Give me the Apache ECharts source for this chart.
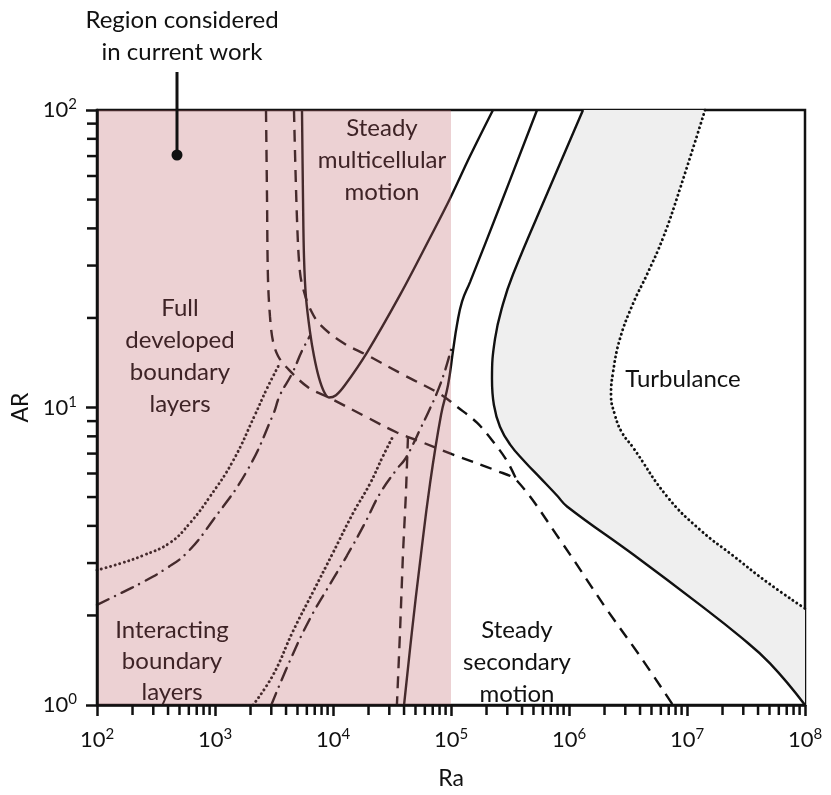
<!DOCTYPE html>
<html><head><meta charset="utf-8">
<script src="https://cdn.jsdelivr.net/npm/echarts@6/dist/echarts.min.js"></script>
<style>html,body{margin:0;padding:0;background:#fff}#c{width:831px;height:795px}</style>
</head><body><div id="c"></div><script>
// ---- data (Ra, AR) ----
const xTickExps = [2, 3, 4, 5, 6, 7, 8];
const yTickExps = [0, 1, 2];
const regionRa = [1e2, 1e5];
const regionAR = [1, 100];
const solidU = [[5460,100],[5570,50.4],[5680,31.9],[5900,23.5],[6380,18.0],[6900,14.9],[7600,12.6],[8390,11.3],[9250,10.8],[10600,11.0],[12640,11.9],[19400,15.3],[37000,23.9],[66400,37.2],[98200,50.4],[145000,70.0],[227000,100]];
const solidMid = [[536000,100],[265000,48.5],[145000,26.4],[124000,22.7],[112500,19.0],[104000,15.5],[94400,11.9],[82300,9.44],[66400,5.55],[54600,3.01],[46700,1.77],[40000,1]];
const solidTurb = [[1315000,100],[664000,53.2],[335000,28.0],[276000,22.3],[236000,17.0],[222500,12.5],[231000,10.2],[260000,8.62],[316000,7.52],[424000,6.56],[568000,5.81],[791000,5.06],[962000,4.65],[3480000,3.21],[12900000,2.17],[28100000,1.70],[50500000,1.38],[1e8,1]];
const dottedTurb = [[14220000,100],[8730000,54.4],[6270000,37.2],[4580000,28.0],[3480000,22.3],[2700000,17.0],[2360000,13.1],[2270000,11.0],[2450000,9.44],[2810000,8.24],[3480000,7.35],[6780000,5.02],[12900000,3.88],[24500000,3.18],[47600000,2.59],[1e8,2.11]];
const dashedLower = [[2705,100],[2760,50.4],[2810,27.4],[2925,20.2],[3100,16.7],[3420,14.9],[4075,13.6],[6140,11.7],[9440,10.75],[19800,9.23],[34800,8.24],[54600,7.69],[101900,6.97],[245500,6.12],[362500,5.67],[839000,3.59],[2100000,2.09],[4000000,1.46],[7600000,1]];
const dashedUpper = [[4670,100],[4950,43.3],[5250,28.5],[5680,24.5],[6380,21.5],[7760,19.0],[12150,16.5],[19400,15.0],[39200,12.9],[80700,11.1],[114600,10.0],[166000,8.89],[227000,7.69],[298500,6.61],[362500,5.67]];
const dashedVert = [[43200,7.99],[41500,5.14],[39200,3.25],[37000,1.77],[34800,1]];
const dottedLeft = [[100,2.84],[157,2.99],[245,3.18],[415,3.51],[614,4.09],[907,5.02],[1420,6.61],[2180,9.44],[2760,11.6],[3550,14.1]];
const dashDotLeft = [[100,2.17],[157,2.37],[245,2.59],[377,2.86],[579,3.25],[961,4.18],[1866,6.12],[3100,9.44],[3550,11.0],[4495,13.0],[5460,15.5],[6380,17.4]];
const dottedMid = [[2100,1],[3100,1.26],[4580,1.77],[6770,2.40],[10000,3.25],[14770,4.41],[20600,5.55],[26500,6.86],[32200,7.99]];
const dashDotMid = [[3000,1],[4320,1.41],[6380,1.95],[9440,2.55],[13140,3.18],[18660,4.09],[25000,5.14],[34800,6.21],[40750,6.70],[47650,7.52],[54600,8.43],[63800,9.59],[76000,11.2],[88900,13.3],[101900,16.1]];

const FONT = 'Lato';
const INK = '#111';
const PINK_INK = '#3e2326';

// minor tick values (2..9 x 10^k) - axis decoration
function minorValues(exps) {
  const out = [];
  for (let i = 0; i < exps.length - 1; i++) for (let m = 2; m <= 9; m++) out.push(m * Math.pow(10, exps[i]));
  return out;
}
const xMinor = minorValues(xTickExps);
const yMinor = minorValues(yTickExps);

function lineSeries(data, kind, smooth) {
  const ls = { color: INK, width: 2.4 };
  if (kind === 'dashed') { ls.type = [12, 8]; }
  else if (kind === 'dotted') { ls.type = [0.1, 4.6]; ls.cap = 'round'; ls.width = 2.9; }
  else if (kind === 'dashdot') { ls.type = [13, 7, 0.1, 7]; ls.cap = 'round'; }
  return { type: 'line', data: data, symbol: 'none', showSymbol: false, smooth: smooth === undefined ? 0.45 : smooth,
    lineStyle: ls, z: 2, silent: true, animation: false };
}

const chart = echarts.init(document.getElementById('c'));
function fmt(v) {
  const e = Math.round(Math.log10(v));
  return '{b|10}{s|' + e + '}';
}
const rich = {
  b: { fontSize: 22, fontFamily: FONT, color: INK, lineHeight: 26 },
  s: { fontSize: 15, fontFamily: FONT, color: INK, lineHeight: 15, verticalAlign: 'top' }
};

chart.setOption({
  animation: false,
  backgroundColor: '#fff',
  grid: { left: 97, right: 26, top: 110, bottom: 80, show: true, borderColor: INK, borderWidth: 2.5, backgroundColor: 'transparent' },
  xAxis: {
    type: 'log', logBase: 10, min: 1e2, max: 1e8, z: 10,
    splitLine: { show: false },
    axisLine: { lineStyle: { color: INK, width: 2.5 } },
    axisTick: { length: 11, lineStyle: { color: INK, width: 2.5 } },
    axisLabel: { margin: 22, formatter: fmt, rich: rich },
    name: 'Ra', nameLocation: 'middle', nameGap: 62,
    nameTextStyle: { fontSize: 23, fontFamily: FONT, color: INK }
  },
  yAxis: {
    type: 'log', logBase: 10, min: 1, max: 100, z: 10,
    splitLine: { show: false },
    axisLine: { lineStyle: { color: INK, width: 2.5 } },
    axisTick: { length: 11, lineStyle: { color: INK, width: 2.5 } },
    axisLabel: { margin: 20, formatter: fmt, rich: rich },
    name: 'AR', nameLocation: 'middle', nameGap: 58,
    nameTextStyle: { fontSize: 23, fontFamily: FONT, color: INK }
  },
  series: [
    { type: 'custom', z: 1, silent: true, data: [[0]], clip: true,
      renderItem: function (params, api) {
        const pts = solidTurb.map(function (d) { return api.coord(d); })
          .concat(dottedTurb.slice().reverse().map(function (d) { return api.coord(d); }));
        return { type: 'polygon', shape: { points: pts }, style: { fill: '#efefef' } };
      } },
    lineSeries(solidU, 'solid', 0.35),
    lineSeries(solidMid, 'solid'),
    lineSeries(solidTurb, 'solid'),
    lineSeries(dottedTurb, 'dotted'),
    lineSeries(dashedLower, 'dashed', 0.35),
    lineSeries(dashedUpper, 'dashed', 0.35),
    lineSeries(dashedVert, 'dashed', 0),
    lineSeries(dottedLeft, 'dotted'),
    lineSeries(dashDotLeft, 'dashdot'),
    lineSeries(dottedMid, 'dotted'),
    lineSeries(dashDotMid, 'dashdot'),
    { type: 'custom', z: 5, silent: true, clip: false,
      data: [[regionRa[0], regionAR[0], regionRa[1], regionAR[1]]],
      encode: { x: [0, 2], y: [1, 3] },
      renderItem: function (params, api) {
        const p0 = api.coord([api.value(0), api.value(1)]);
        const p1 = api.coord([api.value(2), api.value(3)]);
        return { type: 'rect', shape: { x: p0[0], y: p1[1], width: p1[0] - p0[0], height: p0[1] - p1[1] },
          style: { fill: 'rgba(192,102,108,0.3)' } };
      } },
    { type: 'custom', z: 11, silent: true, clip: false, data: [[0]],
      renderItem: function (params, api) {
        const children = [];
        const origin = api.coord([1e2, 1]);
        xMinor.forEach(function (v) {
          const x = api.coord([v, 1])[0];
          children.push({ type: 'line', shape: { x1: x, y1: origin[1], x2: x, y2: origin[1] + 10 }, style: { stroke: INK, lineWidth: 2.5 } });
        });
        yMinor.forEach(function (v) {
          const y = api.coord([1e2, v])[1];
          children.push({ type: 'line', shape: { x1: origin[0] - 10, y1: y, x2: origin[0], y2: y }, style: { stroke: INK, lineWidth: 2.5 } });
        });
        return { type: 'group', children: children };
      } }
  ],
  graphic: [
    { type: 'text', z: 100, style: { text: 'Region considered\nin current work', x: 182, y: 36, align: 'center', verticalAlign: 'middle', lineHeight: 32, font: '24px Lato', fill: INK } },
    { type: 'line', z: 100, shape: { x1: 177, y1: 72, x2: 177, y2: 154 }, style: { stroke: INK, lineWidth: 3 } },
    { type: 'circle', z: 100, shape: { cx: 177, cy: 155, r: 5.5 }, style: { fill: INK } },
    { type: 'text', z: 100, style: { text: 'Steady\nmulticellular\nmotion', x: 382, y: 160, align: 'center', verticalAlign: 'middle', lineHeight: 32, font: '24px Lato', fill: PINK_INK } },
    { type: 'text', z: 100, style: { text: 'Full\ndeveloped\nboundary\nlayers', x: 180, y: 356, align: 'center', verticalAlign: 'middle', lineHeight: 32, font: '24px Lato', fill: PINK_INK } },
    { type: 'text', z: 100, style: { text: 'Interacting\nboundary\nlayers', x: 172, y: 661, align: 'center', verticalAlign: 'middle', lineHeight: 31, font: '24px Lato', fill: PINK_INK } },
    { type: 'text', z: 100, style: { text: 'Steady\nsecondary\nmotion', x: 517, y: 662, align: 'center', verticalAlign: 'middle', lineHeight: 32, font: '24px Lato', fill: INK } },
    { type: 'text', z: 100, style: { text: 'Turbulance', x: 683, y: 379, align: 'center', verticalAlign: 'middle', font: '24px Lato', fill: INK } }
  ]
});
</script></body></html>
